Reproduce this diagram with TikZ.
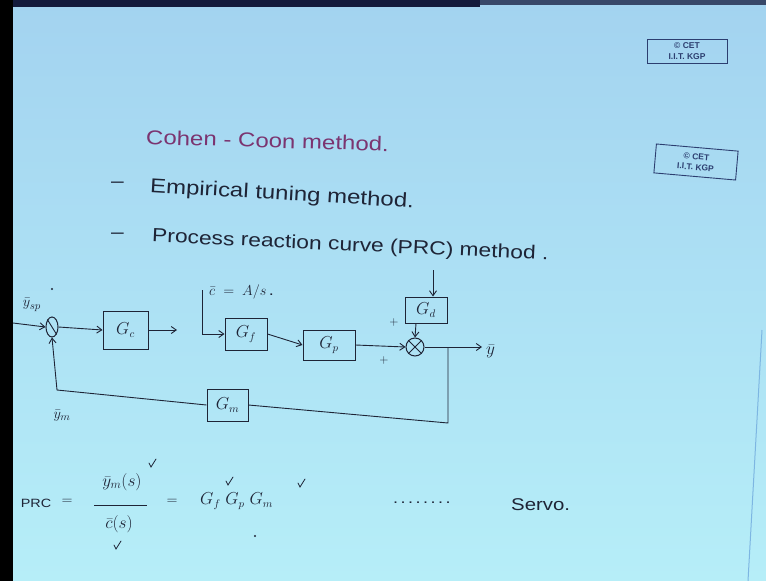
\documentclass[tikz,border=0pt]{standalone}
\usepackage{fontspec}
\setmainfont{Liberation Sans}[FakeStretch=1.2]
\newfontfamily\stampfont{Liberation Sans}
\usetikzlibrary{shapes.geometric,arrows.meta}
\definecolor{ink}{HTML}{1E2436}
\definecolor{titlec}{HTML}{7B3470}
\definecolor{stampc}{HTML}{2C3E70}
\definecolor{bgtop}{HTML}{A3D3F0}
\definecolor{bgbot}{HTML}{B6EEF8}
\definecolor{navy}{HTML}{141A3C}
\definecolor{edgec}{HTML}{7DB6E2}
\tikzset{
  blk/.style={draw=ink, line width=1pt, inner sep=0pt, font=\fontsize{16}{18}\selectfont, text=ink},
  sumj/.style={draw=ink, line width=1pt, inner sep=0pt},
  wire/.style={draw=ink, line width=0.9pt},
  arr/.style={wire, -{Straight Barb[length=5pt,width=7pt]}},
  lbl/.style={text=ink, inner sep=0pt, font=\fontsize{15}{17}\selectfont},
  txt/.style={text=ink, inner sep=0pt, anchor=west},
  stamp/.style={draw=stampc, line width=0.9pt, text=stampc, align=center, inner sep=1pt,
    font=\stampfont\fontsize{8.5}{10.5}\selectfont\bfseries},
  tick/.style={draw=ink, line width=0.8pt, line cap=round}
}
\begin{document}
\begin{tikzpicture}[x=1pt,y=-1pt]
\useasboundingbox (0,0) rectangle (766,581);
\shade[top color=bgtop, bottom color=bgbot] (0,0) rectangle (766,581);
\fill[black] (0,0) rectangle (13,581);
\fill[navy] (13,0) rectangle (480,7);
\fill[navy!75!bgtop] (480,0) rectangle (766,5);
\draw[edgec, line width=1pt] (762,330) -- (748,581);

% stamps
\node[stamp, minimum width=80pt, minimum height=24pt] (st1) at (687,51) {© CET\\I.I.T. KGP};
\node[stamp, minimum width=82pt, minimum height=29pt, rotate=-5] (st2) at (696,162) {© CET\\I.I.T. KGP};

% headings
\node[txt, text=titlec, font=\fontsize{20}{24}\selectfont, rotate=-1.7] (title) at (146,137) {Cohen - Coon method.};
\node[txt, font=\fontsize{19}{22}\selectfont] (d1) at (111,185) {–};
\node[txt, font=\fontsize{20}{22}\selectfont, rotate=-3.4] (l1) at (150,187) {Empirical tuning method.};
\node[txt, font=\fontsize{19}{22}\selectfont] (d2) at (111,236) {–};
\node[txt, font=\fontsize{19}{22}\selectfont, rotate=-2.6] (l2) at (152,237) {Process reaction curve (PRC) method .};

% block diagram
\node[sumj, ellipse, minimum width=12pt, minimum height=20pt] (s1) at (52,327) {};
\draw[wire] (s1.north west) -- (s1.south east);
\node[blk, minimum width=45pt, minimum height=38pt] (gc) at (125.5,330) {$G_c$};
\node[blk, minimum width=42pt, minimum height=32pt] (gf) at (246,334) {$G_f$};
\node[blk, minimum width=52pt, minimum height=30pt] (gp) at (329,345) {$G_p$};
\node[blk, minimum width=42pt, minimum height=26pt] (gd) at (426,310) {$G_d$};
\node[blk, minimum width=41pt, minimum height=32pt] (gm) at (227.5,405) {$G_m$};
\node[sumj, circle, minimum size=18pt] (s2) at (415,347) {};
\draw[wire] (s2.north west) -- (s2.south east);
\draw[wire] (s2.north east) -- (s2.south west);

\coordinate (in) at (13,323);
\coordinate (gcout) at (177,330);
\coordinate (ctop) at (202,290);
\coordinate (dtop) at (433,270);
\coordinate (yout) at (482,347);
\coordinate (tap) at (448,347);
\coordinate (fbr) at (448,423);
\coordinate (fbl) at (57,390);

\draw[arr] (in) -- (s1.west);
\draw[arr] (s1.east) -- (gc.west);
\draw[arr] (gc.east) -- (gcout);
\draw[arr] (ctop) |- (gf.west);
\draw[arr] (gf.east) -- (gp.west);
\draw[arr] (gp.east) -- (s2.west);
\draw[arr] (dtop) -- (dtop |- gd.north);
\draw[arr] ([xshift=-10pt]gd.south) -- (s2.north);
\draw[arr] (s2.east) -- (yout);
\draw[wire] (tap) -- (fbr) -- (gm.east);
\draw[arr] (gm.west) -- (fbl) -- (s1.south);

% diagram labels
\node[lbl] (ysp) at (32,305) {$\bar{y}_{sp}$};
\fill[ink] (52,289) circle (1.1pt);
\node[lbl, anchor=west] (cbar) at (209,292) {$\bar{c}\;=\;A/s$\,.};
\node[lbl, font=\fontsize{12}{14}\selectfont] (p1) at (394,322) {$+$};
\node[lbl, font=\fontsize{12}{14}\selectfont] (p2) at (384,360) {$+$};
\node[lbl, anchor=west, font=\fontsize{17}{19}\selectfont] (ybar) at (486,351) {$\bar{y}$};
\node[lbl] (ym) at (62,416) {$\bar{y}_m$};

% PRC equation
\node[lbl, font=\fontsize{12}{14}\selectfont] (prc) at (36,503) {PRC};
\node[lbl] (eq1) at (67,502) {$=$};
\node[lbl, font=\fontsize{17}{20}\selectfont] (num) at (122,482) {$\bar{y}_m(s)$};
\draw[wire] (94,505) -- (147,505);
\node[lbl, font=\fontsize{17}{20}\selectfont] (den) at (119,524) {$\bar{c}(s)$};
\node[lbl] (eq2) at (172,502) {$=$};
\node[lbl, font=\fontsize{16}{18}\selectfont, anchor=west] (gg) at (200,501) {$G_f\;G_p\;G_m$};
\node[lbl, anchor=west] (dots) at (393,503) {.\,.\,.\,.\,.\,.\,.\,.};
\node[lbl, font=\fontsize{17}{20}\selectfont, anchor=west] (servo) at (511,505) {Servo.};

% check marks
\draw[tick] (149,463) -- (151,467) -- (156,459);
\draw[tick] (226,481) -- (228,485) -- (233,477);
\draw[tick] (298,483) -- (300,487) -- (305,479);
\draw[tick] (114,545) -- (116,549) -- (121,541);
\fill[ink] (255,536) circle (1.2pt);
\end{tikzpicture}
\end{document}
